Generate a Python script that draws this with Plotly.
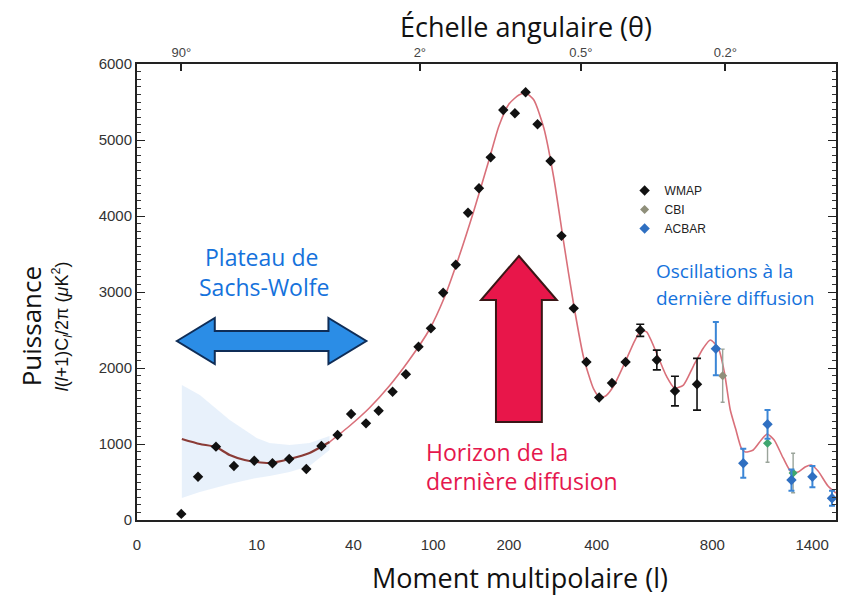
import numpy as np
import plotly.graph_objects as go

# ---------------- data ----------------
# bottom axis tick labels (multipole l) and the axis' own (non-uniform) scale
L_TICKS = [0, 10, 40, 100, 200, 400, 800, 1400]
AXIS_POS = [0, 120, 217, 297, 373, 461, 577, 677]
SCALE_L = L_TICKS + [1600]
SCALE_POS = AXIS_POS + [710.3]

# top axis: angular scale
TOP_L = [3.7, 90, 364, 878]
TOP_LABELS = ["90°", "2°", "0.5°", "0.2°"]

Y_TICKS = [0, 1000, 2000, 3000, 4000, 5000, 6000]

# WMAP
wmap_l = [3.7, 5.1, 6.6, 8.1, 9.8, 14.9, 20.1, 25.4, 30.1, 35.1, 39.3, 49.5, 59, 69.5,
          79.5, 89, 98.3, 113.2, 129.9, 146, 160.5, 175.9, 192.5, 213.6, 238, 265.2,
          294.8, 319.8, 347.7, 376.6, 408.6, 452.8, 500, 550.7, 608, 670.7, 747]
wmap_p = [80, 570, 965, 711, 780, 746, 803, 671, 974, 1118, 1395, 1272, 1438, 1688,
          1917, 2280, 2522, 2991, 3359, 4043, 4365, 4772, 5395, 5351, 5628, 5207,
          4724, 3739, 2785, 2079, 1612, 1803, 2079, 2496, 2105, 1697, 1786]
wmap_err = [0] * 33 + [80, 130, 195, 340]

# ACBAR
acbar_l = [821, 986, 1132, 1276, 1402, 1520]
acbar_p = [2254, 746, 1259, 526, 570, 286]
acbar_err = [350, 190, 190, 140, 140, 100]

# CBI
cbi_l = [862, 1132, 1286]
cbi_p = [1899, 1009, 618]
cbi_err = [350, 250, 260]

# best-fit model curve
model_l = [3.75, 5.25, 6.6, 7.75, 9.0, 10, 14, 20.2, 26.4, 32.6, 38.8, 52, 67, 82, 97,
           114.5, 134, 154, 173.7, 186.8, 200, 222.7, 238.6, 256.8, 279.5, 302.3, 325,
           347.7, 370.5, 393, 410, 431, 458.6, 500, 531, 552, 572.4, 607, 641, 669, 700,
           734.5, 769, 793, 836, 872, 908, 940, 974, 998, 1046, 1094, 1130, 1172, 1226,
           1274, 1316, 1358, 1394, 1436, 1496, 1544]
model_p = [1066, 1000, 960, 855, 789, 763, 750, 803, 882, 1026, 1237, 1474, 1763, 2105,
           2500, 2921, 3461, 4079, 4737, 5184, 5474, 5592, 5618, 5526, 5158, 4500, 3645,
           2829, 2132, 1724, 1618, 1632, 1763, 2092, 2355, 2487, 2474, 2197, 1895, 1737,
           1776, 2026, 2263, 2368, 2263, 1947, 1447, 1200, 947, 895, 921, 1053, 1132,
           1053, 816, 632, 632, 697, 724, 645, 447, 355]
LOW_L_CUT = 10  # number of model points drawn in the darker low-l colour

# cosmic-variance band at low l
band_l = [3.75, 5.25, 7.75, 10, 14, 20.2, 26.4, 32.6]
band_hi = [1776, 1645, 1316, 1079, 1013, 987, 1013, 1105]
band_lo = [289, 368, 474, 553, 579, 632, 711, 921]


def lx(l):
    return np.interp(np.asarray(l, dtype=float), SCALE_L, SCALE_POS)


# ---------------- layout geometry ----------------
W, H = 841, 595
X0, X1, Y0, Y1 = 137, 838, 64, 520   # plot area in pixels


def px(x):
    return (x - X0) / (X1 - X0)


def py(y):
    return (Y1 - y) / (Y1 - Y0)


fig = go.Figure()

# band
fig.add_trace(go.Scatter(x=lx(band_l), y=band_lo, mode="lines", line=dict(width=0),
                         showlegend=False, hoverinfo="skip"))
fig.add_trace(go.Scatter(x=lx(band_l), y=band_hi, mode="lines", line=dict(width=0),
                         fill="tonexty", fillcolor="rgba(214,229,247,0.55)",
                         showlegend=False, hoverinfo="skip"))

# model curve
fig.add_trace(go.Scatter(x=lx(model_l[LOW_L_CUT - 1:]), y=model_p[LOW_L_CUT - 1:], mode="lines",
                         line=dict(color="#d9707a", width=1.6, shape="spline", smoothing=0.6),
                         showlegend=False, hoverinfo="skip"))
fig.add_trace(go.Scatter(x=lx(model_l[:LOW_L_CUT]), y=model_p[:LOW_L_CUT], mode="lines",
                         line=dict(color="#8a3b36", width=2.2, shape="spline", smoothing=0.6),
                         showlegend=False, hoverinfo="skip"))

# data
fig.add_trace(go.Scatter(x=lx(wmap_l), y=wmap_p, mode="markers", name="WMAP",
                         marker=dict(symbol="diamond", size=8, color="#111111"),
                         error_y=dict(type="data", array=wmap_err, color="#111111",
                                      thickness=1.6, width=4)))
fig.add_trace(go.Scatter(x=lx(cbi_l), y=cbi_p, mode="markers", name="CBI",
                         marker=dict(symbol="diamond", size=7,
                                     color=["#8f8f7a", "#3fa66f", "#3fa66f"]),
                         error_y=dict(type="data", array=cbi_err, color="#9aa49a",
                                      thickness=1.4, width=2)))
fig.add_trace(go.Scatter(x=lx(acbar_l), y=acbar_p, mode="markers", name="ACBAR",
                         marker=dict(symbol="diamond", size=8, color="#2f6fc1"),
                         error_y=dict(type="data", array=acbar_err, color="#3b86d6",
                                      thickness=2, width=3)))

# ---------------- arrows ----------------
def path(points):
    s = "M " + " L ".join(f"{px(a):.5f},{py(b):.5f}" for a, b in points) + " Z"
    return s


blue_arrow = [(177, 341), (215, 318), (215, 331), (329, 331), (329, 318), (367, 341),
              (329, 364), (329, 351), (215, 351), (215, 364)]
red_arrow = [(520, 256), (558, 300), (543, 300), (543, 422), (497, 422), (497, 300),
             (482, 300)]
shapes = [
    dict(type="path", xref="paper", yref="paper", path=path(blue_arrow),
         fillcolor="#2b8de6", line=dict(color="#0f2d57", width=2), layer="above"),
    dict(type="path", xref="paper", yref="paper", path=path(red_arrow),
         fillcolor="#e8164a", line=dict(color="#3a1616", width=2), layer="above"),
]

# ---------------- annotations ----------------
TXT = "Open Sans"
BLUE = "#1572dc"
RED = "#e5174d"
ann = []


def add_text(text, x, y, size, color, xanchor="center", angle=0, family=TXT):
    ann.append(dict(text=text, x=px(x), y=py(y), xref="paper", yref="paper",
                    showarrow=False, xanchor=xanchor, yanchor="middle",
                    textangle=angle, font=dict(family=family, size=size, color=color)))


add_text("Échelle angulaire (θ)", 527, 27, 27, "#111111")
add_text("Moment multipolaire (l)", 521, 577, 27, "#111111")
add_text("Puissance", 31, 326, 26, "#111111", angle=-90)
add_text("<i>l</i>(<i>l</i>+1)C<sub><i>l</i></sub>/2π (<i>μ</i>K<sup>2</sup>)", 61, 326, 18,
         "#111111", angle=-90, family="Liberation Sans")
add_text("Plateau de", 262, 257, 23, BLUE)
add_text("Sachs-Wolfe", 264, 287, 23, BLUE)
add_text("Horizon de la", 425, 452, 23, RED, xanchor="left")
add_text("dernière diffusion", 425, 481, 23, RED, xanchor="left")
add_text("Oscillations à la", 655, 271, 19, BLUE, xanchor="left")
add_text("dernière diffusion", 655, 298, 19, BLUE, xanchor="left")

fig.update_layout(
    width=W, height=H,
    margin=dict(l=X0, r=W - X1, t=Y0, b=H - Y1),
    paper_bgcolor="white", plot_bgcolor="white",
    shapes=shapes, annotations=ann,
    showlegend=True,
    legend=dict(x=px(626), y=py(176), xanchor="left", yanchor="top", traceorder="normal",
                bgcolor="rgba(0,0,0,0)", font=dict(family="Liberation Sans", size=12,
                                                   color="#222222"),
                itemwidth=30, tracegroupgap=0),
    xaxis=dict(range=[0, X1 - X0], tickvals=lx(L_TICKS), ticktext=[str(v) for v in L_TICKS],
               showgrid=False, zeroline=False, showline=True, linecolor="#222222",
               linewidth=2, ticks="", ticklabelstandoff=10,
               tickfont=dict(family="Liberation Sans", size=15, color="#333333")),
    xaxis2=dict(range=[0, X1 - X0], overlaying="x", side="top", anchor="y",
                tickvals=lx(TOP_L), ticktext=TOP_LABELS, showgrid=False, zeroline=False,
                showline=True, linecolor="#222222", linewidth=2, ticks="inside",
                ticklen=7, tickwidth=1.5, tickcolor="#222222",
                tickfont=dict(family="Liberation Sans", size=13, color="#444444")),
    yaxis=dict(range=[0, 6000], tickvals=Y_TICKS, showgrid=False, zeroline=False,
               showline=True, linecolor="#222222", linewidth=2, mirror="ticks",
               ticks="inside", ticklen=8, tickwidth=1.3, tickcolor="#222222",
               minor=dict(dtick=100, ticks="inside", ticklen=4, tickcolor="#333333",
                          tickwidth=1),
               tickfont=dict(family="Liberation Sans", size=15, color="#333333")),
)

# dummy trace so the top axis is drawn
fig.add_trace(go.Scatter(x=lx(TOP_L), y=[None] * len(TOP_L), xaxis="x2", mode="markers",
                         showlegend=False, hoverinfo="skip"))

fig.write_html("out.html")
